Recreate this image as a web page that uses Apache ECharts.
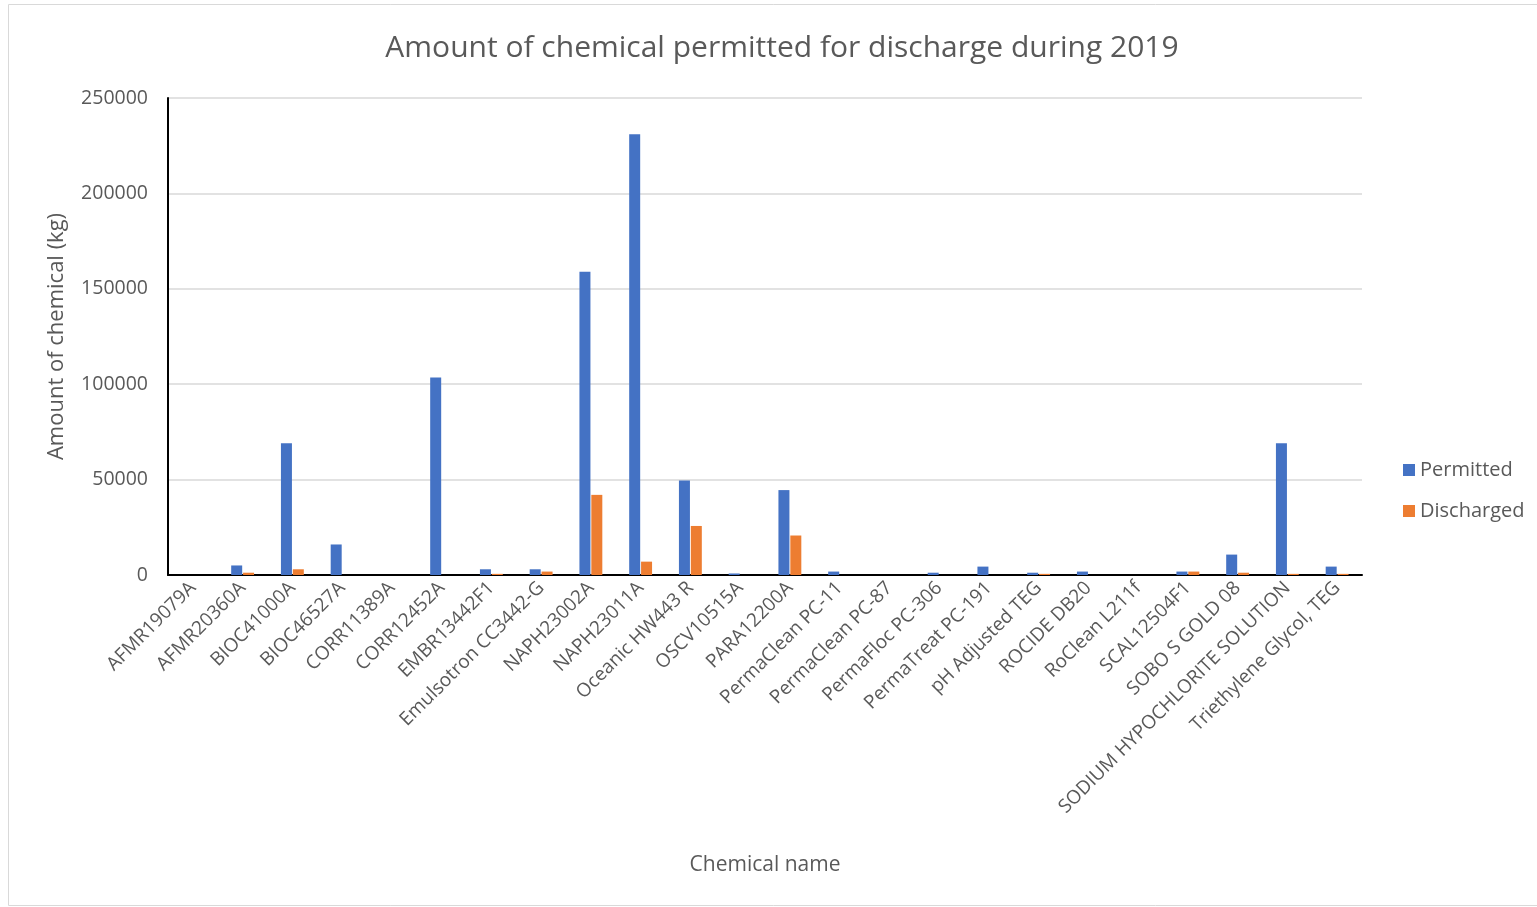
<!DOCTYPE html>
<html><head><meta charset="utf-8">
<script src="https://cdn.jsdelivr.net/npm/echarts@6/dist/echarts.min.js"></script>
<style>html,body{margin:0;padding:0;background:#fff}#c{width:1537px;height:907px}</style>
</head><body><div id="c"></div>
<script>
const categories = ["AFMR19079A","AFMR20360A","BIOC41000A","BIOC46527A","CORR11389A","CORR12452A","EMBR13442F1","Emulsotron CC3442-G","NAPH23002A","NAPH23011A","Oceanic HW443 R","OSCV10515A","PARA12200A","PermaClean PC-11","PermaClean PC-87","PermaFloc PC-306","PermaTreat PC-191","pH Adjusted TEG","ROCIDE DB20","RoClean L211f","SCAL12504F1","SOBO S GOLD 08","SODIUM HYPOCHLORITE SOLUTION","Triethylene Glycol, TEG"];
const permitted = [0,5000,69000,16000,0,103500,3000,3000,159000,231000,49500,800,44500,1800,0,1200,4400,1200,1800,0,1800,10700,69000,4400];
const discharged = [0,1200,3000,0,0,0,600,1800,42000,7000,25700,0,20700,0,0,0,0,600,0,0,1800,1200,600,600];
const yTicks = [0,50000,100000,150000,200000,250000];

const chart = echarts.init(document.getElementById('c'));
const font = '"Open Sans", sans-serif';
chart.setOption({
  animation:false,
  textStyle:{fontFamily:font},
  title:{text:'Amount of chemical permitted for discharge during 2019',left:777,textAlign:'center',top:28,
    textStyle:{fontFamily:font,fontSize:30,fontWeight:'normal',color:'#595959'}},
  graphic:[{type:'rect',shape:{x:8.5,y:4.5,width:1540,height:901},style:{fill:null,stroke:'#d9d9d9',lineWidth:1},silent:true}],
  legend:{orient:'vertical',left:1398,top:455,itemGap:21,itemWidth:12,itemHeight:12,icon:'rect',
    textStyle:{fontFamily:font,fontSize:20,color:'#595959'},data:['Permitted','Discharged']},
  grid:{left:168,right:175,top:98,bottom:332,containLabel:false},
  xAxis:{type:'category',data:categories,name:'Chemical name',nameLocation:'middle',nameGap:280,
    nameTextStyle:{fontFamily:font,fontSize:21,color:'#595959'},
    axisLine:{lineStyle:{color:'#000',width:2}},axisTick:{show:false},
    axisLabel:{interval:0,rotate:45,fontFamily:font,fontSize:19,color:'#595959',margin:10}},
  yAxis:{type:'value',min:0,max:250000,interval:50000,name:'Amount of chemical (kg)',nameLocation:'middle',nameGap:100,
    nameTextStyle:{fontFamily:font,fontSize:22,color:'#595959'},
    axisLine:{show:true,lineStyle:{color:'#000',width:2}},axisTick:{show:false},
    splitLine:{lineStyle:{color:'#d9d9d9',width:1.5}},
    axisLabel:{fontFamily:font,fontSize:19.5,color:'#595959',margin:20,
      formatter:v=>yTicks.includes(v)?String(v):''}},
  series:[
    {name:'Permitted',type:'bar',data:permitted,barWidth:11,barGap:'8%',itemStyle:{color:'#4472c4'}},
    {name:'Discharged',type:'bar',data:discharged,barWidth:11,itemStyle:{color:'#ed7d31'}}
  ]
});
</script></body></html>
